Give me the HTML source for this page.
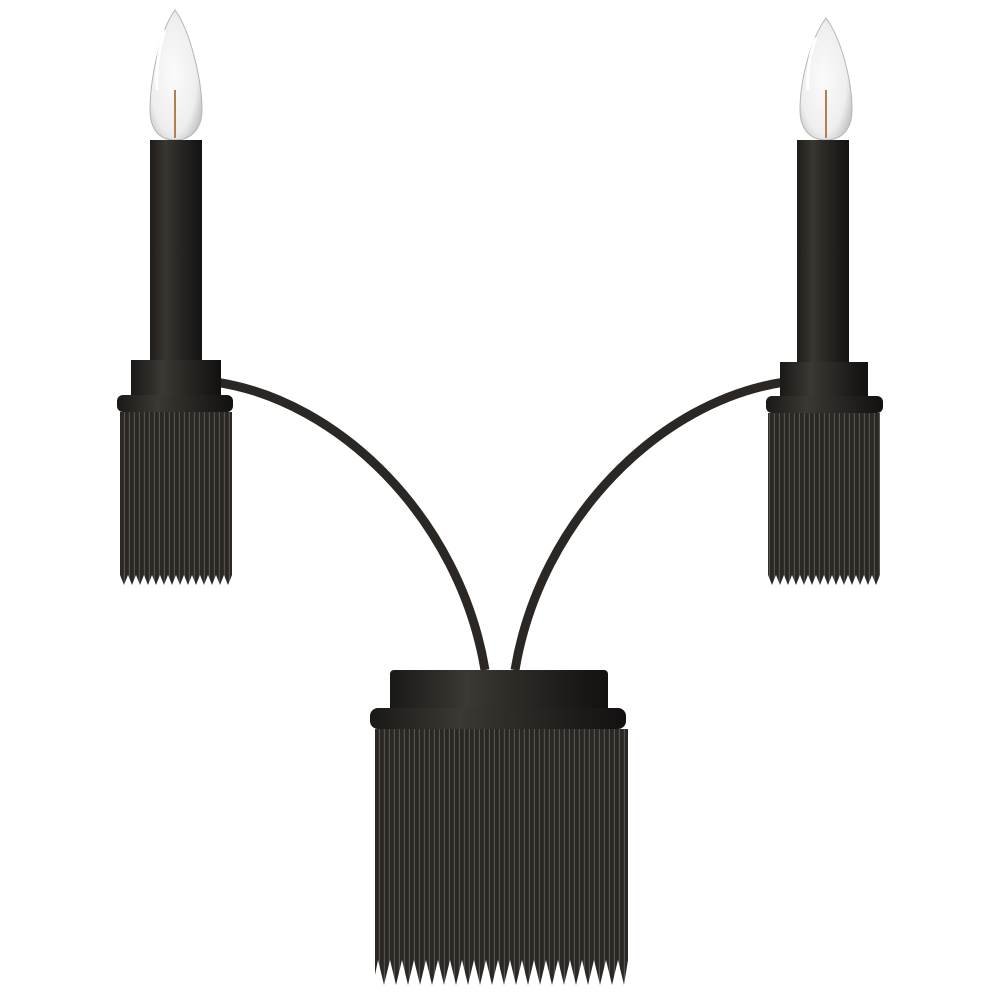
<!DOCTYPE html>
<html><head><meta charset="utf-8"><style>
html,body{margin:0;padding:0;background:#fff;}
svg{display:block}
</style></head><body>
<svg width="1000" height="1000" viewBox="0 0 1000 1000" xmlns="http://www.w3.org/2000/svg">
<defs>
<linearGradient id="tube" x1="0" x2="1" y1="0" y2="0">
<stop offset="0" stop-color="#1e1c1a"/><stop offset="0.3" stop-color="#3a3631"/><stop offset="0.55" stop-color="#2a2724"/><stop offset="1" stop-color="#141312"/>
</linearGradient>
<linearGradient id="cup" x1="0" x2="1" y1="0" y2="0">
<stop offset="0" stop-color="#1a1917"/><stop offset="0.35" stop-color="#3c3833"/><stop offset="0.6" stop-color="#2b2825"/><stop offset="1" stop-color="#121110"/>
</linearGradient>
<radialGradient id="bulb" cx="0.45" cy="0.5" r="0.6">
<stop offset="0" stop-color="#fbfbfb"/><stop offset="0.75" stop-color="#eeeeee"/><stop offset="1" stop-color="#c8c8c8"/>
</radialGradient>
<pattern id="fr" width="5" height="10" patternUnits="userSpaceOnUse">
<rect width="5" height="10" fill="#2a2724"/>
<rect x="3.8" width="1.2" height="10" fill="#55514b"/>
</pattern>
</defs>

<path d="M215 382 C 340 400, 460 520, 485 670" stroke="#2a2724" stroke-width="9" fill="none"/>
<path d="M785 382 C 660 400, 540 520, 515 670" stroke="#2a2724" stroke-width="9" fill="none"/>

<path d="M175 10 C 160 30, 150 80, 150 110 C 150 130, 160 140, 175 140 C 190 140, 202 130, 202 110 C 202 80, 190 30, 175 10 Z" fill="url(#bulb)" stroke="#b5b5b5" stroke-width="1"/>
<path d="M165 30 C 158 50, 156 70, 157 90" stroke="#fff" stroke-width="3" fill="none"/>
<line x1="175" y1="90" x2="175" y2="138" stroke="#b08050" stroke-width="2"/>
<rect x="150" y="140" width="52" height="222" fill="url(#tube)"/>
<rect x="131" y="360" width="90" height="38" fill="url(#cup)"/>
<rect x="117" y="395" width="116" height="17" rx="6" fill="url(#cup)"/>
<path d="M120 412 H232 V575 L228 585 L224 575 L220 585 L216 575 L212 585 L208 575 L204 585 L200 575 L196 585 L192 575 L188 585 L184 575 L180 585 L176 575 L172 585 L168 575 L164 585 L160 575 L156 585 L152 575 L148 585 L144 575 L140 585 L136 575 L132 585 L128 575 L124 585 L120 575 Z" fill="url(#fr)"/>

<path d="M826 18 C 811 38, 800 80, 800 110 C 800 130, 811 140, 826 140 C 841 140, 852 130, 852 110 C 852 80, 841 38, 826 18 Z" fill="url(#bulb)" stroke="#b5b5b5" stroke-width="1"/>
<path d="M816 38 C 809 55, 807 72, 808 90" stroke="#fff" stroke-width="3" fill="none"/>
<line x1="826" y1="90" x2="826" y2="138" stroke="#b08050" stroke-width="2"/>
<rect x="797" y="140" width="52" height="224" fill="url(#tube)"/>
<rect x="780" y="362" width="88" height="36" fill="url(#cup)"/>
<rect x="766" y="396" width="117" height="17" rx="6" fill="url(#cup)"/>
<path d="M768 413 H880 V575 L876 585 L872 575 L868 585 L864 575 L860 585 L856 575 L852 585 L848 575 L844 585 L840 575 L836 585 L832 575 L828 585 L824 575 L820 585 L816 575 L812 585 L808 575 L804 585 L800 575 L796 585 L792 575 L788 585 L784 575 L780 585 L776 575 L772 585 L768 575 Z" fill="url(#fr)"/>

<rect x="390" y="670" width="218" height="42" rx="4" fill="url(#cup)"/>
<rect x="370" y="708" width="256" height="21" rx="8" fill="url(#cup)"/>
<path d="M375 729 H628 V960 L624 985 L618 960 L612 985 L606 960 L600 985 L594 960 L588 985 L582 960 L576 985 L570 960 L564 985 L558 960 L552 985 L546 960 L540 985 L534 960 L528 985 L522 960 L516 985 L510 960 L504 985 L498 960 L492 985 L486 960 L480 985 L474 960 L468 985 L462 960 L456 985 L450 960 L444 985 L438 960 L432 985 L426 960 L420 985 L414 960 L408 985 L402 960 L396 985 L390 960 L384 985 L378 960 L375 975 Z" fill="url(#fr)"/>
</svg>
</body></html>
